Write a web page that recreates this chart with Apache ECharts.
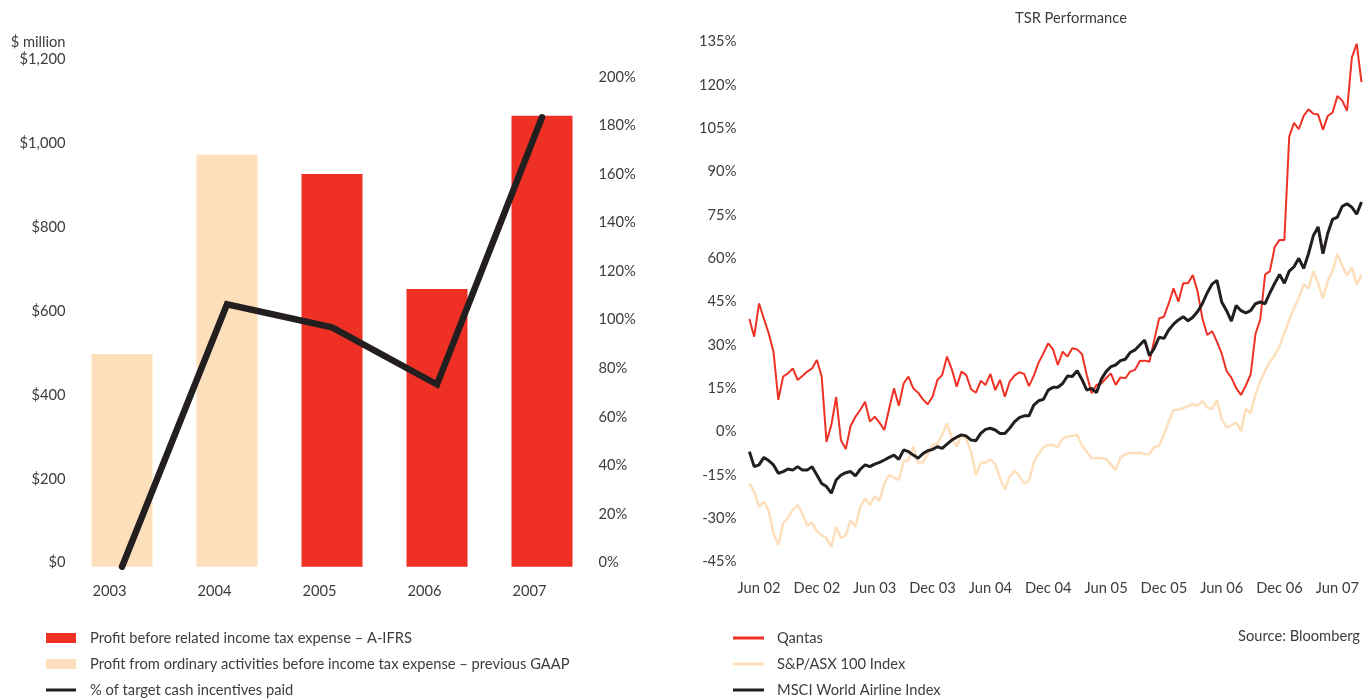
<!DOCTYPE html>
<html lang="en">
<head>
    <meta charset="UTF-8">
    <title>Profit and TSR Performance</title>
    <script type="text/javascript" src="https://cdn.jsdelivr.net/npm/echarts@6/dist/echarts.min.js"></script>
    <style>
        html, body { margin: 0; padding: 0; background: #fff; }
        #ec { width: 1370px; height: 700px; }
    </style>
</head>
<body>
<div id="ec"></div>
<script>
    // left chart: profit ($ million) and incentives (%)
    var years = ['2003', '2004', '2005', '2006', '2007'];
    var profitIFRS = [null, null, 936, 662, 1075];
    var profitGAAP = [507, 982, null, null, null];
    var incentivePct = [0, 108, 98.5, 75, 185];

    // right chart: TSR, one point every half month from May 02 to Aug 07
    var tsrTickLabels = ['Jun 02', 'Dec 02', 'Jun 03', 'Dec 03', 'Jun 04', 'Dec 04',
        'Jun 05', 'Dec 05', 'Jun 06', 'Dec 06', 'Jun 07'];
    var qantas = [39, 32.9, 44.4, 39.2, 34.1, 27.7, 11.0, 19.1, 20.2, 21.9, 17.9, 19.3, 20.8, 21.9, 24.8, 19.1,
        -3.5, 2.3, 12, -3, -6, 2, 5.2, 7.5, 10.4, 3.5, 5.2, 3.1, 0.6, 8, 15, 9,
        16.7, 19.1, 15.0, 13.5, 11.2, 9.5, 12.1, 17.9, 19.6, 26.0, 21.6, 15.6, 20.8, 19.6, 14.7, 13.5,
        17.6, 16.2, 20.0, 14.4, 17.9, 12.1, 17.3, 19.4, 20.6, 20.0, 15.8, 19.3, 23.9, 27.1, 30.6, 28.5,
        23.1, 27.7, 26.0, 28.9, 28.5, 26.9, 19.6, 13.3, 16.2, 16.7, 18.5, 20.2, 16.2, 18.8, 18.5, 20.8,
        21.4, 24.5, 24.6, 24.2, 31.7, 39.2, 39.8, 44.4, 49.6, 45.0, 51.4, 51.4, 54.2, 48.5, 39.2, 33.5,
        34.8, 31.2, 27.0, 21.0, 18.7, 15.1, 12.7, 16.0, 19.8, 33.8, 38.9, 54.4, 55.6, 64.0, 66.4, 66.4,
        102.1, 106.9, 104.7, 109.3, 111.6, 110.1, 109.8, 104.5, 109.3, 110.5, 116.2, 114.6, 111.1, 129.5, 134.3, 121];
    var asx100 = [-17.9, -20.8, -26.0, -24.2, -27.3, -35.2, -39.2, -31.7, -29.8, -27.1, -25.4, -28.3, -32.6, -31.5, -34.5, -35.8,
        -36.9, -40.0, -32.9, -36.9, -35.8, -30.6, -32.9, -26.2, -23.1, -25.4, -22.3, -24.0, -17.9, -15.0, -15.8, -16.7,
        -10.4, -9.8, -5.2, -10.7, -10.7, -7.8, -4.6, -4.3, -1.1, 2.9, -2.3, -5.2, -1.1, -2.6, -6.9, -15.0,
        -10.7, -10.7, -9.6, -11.2, -16.1, -20.0, -15.6, -13.5, -15.3, -17.9, -17.0, -10.7, -7.8, -5.4, -4.6, -4.6,
        -5.4, -2.3, -1.7, -1.4, -1.1, -4.7, -6.9, -9.2, -9.1, -9.1, -9.5, -11.3, -13.3, -8.9, -7.8, -7.3,
        -7.5, -7.3, -7.7, -7.8, -5.2, -5.0, -1.1, 3.5, 7.5, 7.7, 8.1, 8.9, 9.5, 9.0, 10.6, 8.4,
        7.9, 10.9, 4.4, 1.4, 2.2, 3.2, 0.2, 7.9, 6.5, 12.9, 17.5, 21.0, 24.4, 26.4, 29.6, 34.2,
        38.7, 42.8, 46.3, 51.1, 49.6, 55.6, 51.4, 46.1, 52.3, 55.6, 61.5, 57.4, 54.1, 56.8, 50.9, 54.2];
    var msciAirline = [-6.9, -12.1, -11.5, -8.9, -10.0, -11.5, -14.4, -13.8, -12.9, -13.3, -12.1, -13.3, -13.3, -12.1, -15.0, -17.9,
        -19.0, -21.3, -16.7, -15.0, -14.2, -13.8, -15.3, -13.0, -11.5, -12.1, -11.2, -10.6, -9.8, -8.9, -8.1, -9.6,
        -6.3, -6.9, -8.1, -9.2, -7.6, -6.6, -6.1, -5.2, -5.8, -4.3, -2.9, -1.9, -1.1, -1.5, -2.9, -3.1,
        -0.6, 0.8, 1.2, 0.6, -0.6, -0.6, 1.2, 3.4, 4.9, 5.5, 5.5, 9.2, 10.7, 11.2, 14.4, 15.4,
        15.4, 16.7, 19.3, 19.1, 21.1, 18.1, 14.4, 15.0, 13.5, 18.1, 20.8, 22.5, 23.1, 24.6, 25.1, 27.4,
        28.3, 30.0, 31.7, 26.3, 28.9, 32.7, 32.3, 35.2, 37.2, 38.7, 39.8, 38.4, 39.6, 41.6, 44.4, 48.1,
        51.1, 52.4, 44.9, 41.9, 38.3, 43.7, 41.9, 41.1, 41.9, 44.3, 44.9, 44.3, 48.1, 51.4, 54.4, 51.4,
        55.6, 57.1, 60.0, 56.5, 61.6, 67.8, 70.9, 61.6, 68.7, 73.5, 74.3, 78.0, 78.9, 77.7, 75.3, 79.5];

    // half-month categories; the first half of a month carries the plain "Mon YY" name
    var monthNames = ['Jan', 'Feb', 'Mar', 'Apr', 'May', 'Jun', 'Jul', 'Aug', 'Sep', 'Oct', 'Nov', 'Dec'];
    var tsrDates = [];
    for (var k = 0; k < qantas.length; k++) {
        var m = 4 + Math.floor(k / 2);
        var name = monthNames[m % 12] + ' ' + String(2002 + Math.floor(m / 12)).slice(2);
        tsrDates.push(k % 2 === 0 ? name : name + ' mid');
    }

    var FONT = 'Lato';
    var FS = 14.7;
    var TXT = '#3d3d3d';
    var RED = '#ee3124';
    var PEACH = '#fddfbc';
    var DARK = '#231f20';

    function legendAt(name, left, top, w, h, gap) {
        return {
            data: [{name: name, icon: 'rect'}],
            left: left,
            top: top,
            padding: 0,
            itemWidth: w,
            itemHeight: h,
            selectedMode: false,
            textStyle: {
                color: TXT, fontFamily: FONT, fontSize: FS, lineHeight: 16,
                padding: [0, 0, 0, gap]
            }
        };
    }

    var myChart = echarts.init(document.getElementById('ec'));
    myChart.setOption({
        animation: false,
        textStyle: {fontFamily: FONT},
        title: {
            text: 'TSR Performance',
            left: 1066,
            top: 6,
            textAlign: 'center',
            textStyle: {color: TXT, fontFamily: FONT, fontSize: FS, fontWeight: 'normal'}
        },
        graphic: [{
            type: 'text',
            right: 10,
            top: 629,
            style: {text: 'Source: Bloomberg', fill: TXT, font: FS + 'px ' + FONT}
        }],
        legend: [
            legendAt('Profit before related income tax expense – A-IFRS', 46, 630, 30, 10, 9),
            legendAt('Profit from ordinary activities before income tax expense – previous GAAP', 46, 656, 30, 10, 9),
            legendAt('% of target cash incentives paid', 46, 682, 30, 3, 9),
            legendAt('Qantas', 733, 630, 31, 3, 8),
            legendAt('S&P/ASX 100 Index', 733, 656, 31, 3, 8),
            legendAt('MSCI World Airline Index', 733, 682, 31, 3, 8)
        ],
        grid: [
            {left: 69.5, top: 63.3, width: 525, height: 503.4},
            {left: 749.4, top: 41.7, width: 612.1, height: 520}
        ],
        xAxis: [
            {
                type: 'category', gridIndex: 0, data: years,
                axisLine: {show: false}, axisTick: {show: false},
                axisLabel: {color: TXT, fontSize: FS, margin: 17, padding: [0, 25, 0, 0]}
            },
            {
                type: 'category', gridIndex: 1, data: tsrDates, boundaryGap: false,
                axisLine: {show: false}, axisTick: {show: false},
                axisLabel: {
                    color: TXT, fontSize: FS, margin: 19,
                    interval: function (idx, val) { return tsrTickLabels.indexOf(val) >= 0; }
                }
            }
        ],
        yAxis: [
            {
                type: 'value', gridIndex: 0, min: 0, max: 1200, interval: 200,
                name: '$ million', nameLocation: 'end', nameGap: 14,
                nameTextStyle: {color: TXT, fontSize: FS, align: 'right', padding: [0, 4, 0, 0]},
                axisLine: {show: false}, axisTick: {show: false}, splitLine: {show: false},
                axisLabel: {
                    color: TXT, fontSize: FS, margin: 4, verticalAlign: 'bottom', lineHeight: 8,
                    formatter: function (v) { return '$' + v.toLocaleString('en-US'); }
                }
            },
            {
                type: 'value', gridIndex: 0, position: 'right', min: 0, max: 207.2, interval: 20,
                axisLine: {show: false}, axisTick: {show: false}, splitLine: {show: false},
                axisLabel: {color: TXT, fontSize: FS, margin: 4, verticalAlign: 'bottom', lineHeight: 8,
                    showMaxLabel: false, formatter: '{value}%'}
            },
            {
                type: 'value', gridIndex: 1, min: -45, max: 135, interval: 15,
                axisLine: {show: false}, axisTick: {show: false}, splitLine: {show: false},
                axisLabel: {color: TXT, fontSize: FS, margin: 13, formatter: '{value}%'}
            }
        ],
        series: [
            {
                name: 'Profit before related income tax expense – A-IFRS',
                type: 'bar', xAxisIndex: 0, yAxisIndex: 0,
                data: profitIFRS, barWidth: 61, barGap: '-100%',
                itemStyle: {color: RED}
            },
            {
                name: 'Profit from ordinary activities before income tax expense – previous GAAP',
                type: 'bar', xAxisIndex: 0, yAxisIndex: 0,
                data: profitGAAP, barWidth: 61, barGap: '-100%',
                itemStyle: {color: PEACH}
            },
            {
                name: '% of target cash incentives paid',
                type: 'line', xAxisIndex: 0, yAxisIndex: 1,
                data: incentivePct, symbol: 'none',
                itemStyle: {color: DARK},
                lineStyle: {color: DARK, width: 6.5, cap: 'round', join: 'miter'}
            },
            {
                name: 'S&P/ASX 100 Index',
                type: 'line', xAxisIndex: 1, yAxisIndex: 2,
                data: asx100, symbol: 'none',
                itemStyle: {color: PEACH},
                lineStyle: {color: PEACH, width: 2.5}
            },
            {
                name: 'Qantas',
                type: 'line', xAxisIndex: 1, yAxisIndex: 2,
                data: qantas, symbol: 'none',
                itemStyle: {color: RED},
                lineStyle: {color: RED, width: 2}
            },
            {
                name: 'MSCI World Airline Index',
                type: 'line', xAxisIndex: 1, yAxisIndex: 2,
                data: msciAirline, symbol: 'none',
                itemStyle: {color: DARK},
                lineStyle: {color: DARK, width: 3}
            }
        ]
    });
</script>
</body>
</html>
